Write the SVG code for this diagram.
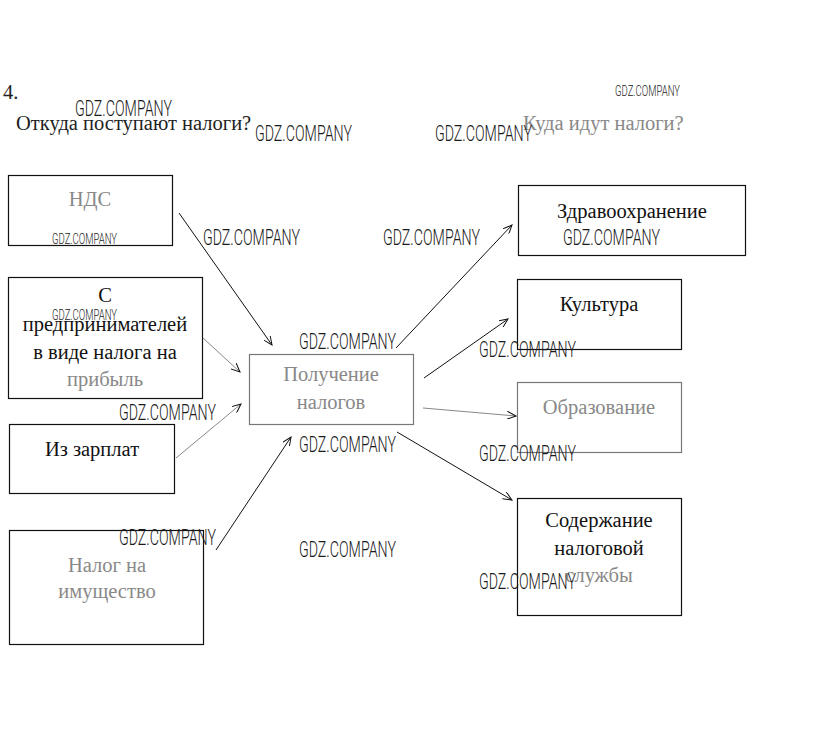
<svg xmlns="http://www.w3.org/2000/svg" width="823" height="754" viewBox="0 0 823 754">
<style>
.box{fill:none;stroke:#111;stroke-width:1.2}
.faint{stroke:#777}
.t{font-family:"Liberation Serif","DejaVu Serif",serif;font-size:20.5px;fill:#111;text-anchor:middle}
.tl{font-family:"Liberation Serif","DejaVu Serif",serif;font-size:20.5px;fill:#222}
.g{fill:#888}
.wm{font-family:Roboto,"Liberation Sans",sans-serif;font-weight:300;font-size:22px;fill:#1a1a1a}
.wms{font-family:Roboto,"Liberation Sans",sans-serif;font-weight:300;font-size:14px;fill:#1a1a1a}
.c{fill:none;stroke:#111;stroke-width:1;marker-end:url(#ah)}
.cf{stroke:#888}
</style>
<defs>
<marker id="ah" markerWidth="10" markerHeight="8" refX="9" refY="4" orient="auto" markerUnits="userSpaceOnUse">
<path d="M0,0 L9,4 L0,8" fill="none" stroke="#111" stroke-width="1"/>
</marker>
</defs>
<rect width="823" height="754" fill="#fff"/>
<text class="tl" x="3" y="99" font-size="21">4.</text>
<text class="tl" x="16" y="130">Откуда поступают налоги?</text>
<text class="tl g" x="523" y="130">Куда идут налоги?</text>

<g id="connectors">
<line class="c" x1="179" y1="213" x2="272" y2="345"/>
<line class="c cf" x1="203" y1="338" x2="240" y2="372"/>
<line class="c cf" x1="176" y1="458" x2="241" y2="404"/>
<line class="c" x1="216" y1="550" x2="291" y2="437"/>
<line class="c" x1="396" y1="348" x2="512" y2="225"/>
<line class="c" x1="424" y1="378" x2="508" y2="319"/>
<line class="c cf" x1="423" y1="408" x2="516" y2="416"/>
<line class="c" x1="397" y1="432" x2="512" y2="500"/>
</g>

<g id="nds">
<rect class="box" x="8.5" y="175.5" width="164" height="70"/>
<text class="t g" x="90" y="206">НДС</text>
</g>
<g id="entrepreneurs">
<rect class="box" x="8.5" y="277.5" width="194" height="121"/>
<text class="t" x="105" y="302">С</text>
<text class="t" x="105" y="331">предпринимателей</text>
<text class="t" x="105" y="359">в виде налога на</text>
<text class="t g" x="105" y="386">прибыль</text>
</g>
<g id="salary">
<rect class="box" x="9.5" y="424.5" width="165" height="69"/>
<text class="t" x="92" y="456">Из зарплат</text>
</g>
<g id="property">
<rect class="box" x="9.5" y="530.5" width="194" height="114"/>
<text class="t g" x="107" y="572">Налог на</text>
<text class="t g" x="107" y="598">имущество</text>
</g>
<g id="receipt">
<rect class="box faint" x="249.5" y="354.5" width="164" height="70"/>
<text class="t g" x="331" y="381">Получение</text>
<text class="t g" x="331" y="409">налогов</text>
</g>
<g id="health">
<rect class="box" x="518.5" y="185.5" width="227" height="70"/>
<text class="t" x="632" y="218">Здравоохранение</text>
</g>
<g id="culture">
<rect class="box" x="517.5" y="279.5" width="164" height="70"/>
<text class="t" x="599" y="311">Культура</text>
</g>
<g id="education">
<rect class="box faint" x="517.5" y="382.5" width="164" height="70"/>
<text class="t g" x="599" y="414">Образование</text>
</g>
<g id="taxservice">
<rect class="box" x="517.5" y="498.5" width="164" height="117"/>
<text class="t" x="599" y="527">Содержание</text>
<text class="t" x="599" y="555">налоговой</text>
<text class="t g" x="599" y="582">службы</text>
</g>

<g id="watermarks">
<text class="wm" x="75" y="116" textLength="97" lengthAdjust="spacingAndGlyphs">GDZ.COMPANY</text>
<text class="wm" x="255" y="141" textLength="97" lengthAdjust="spacingAndGlyphs">GDZ.COMPANY</text>
<text class="wm" x="435" y="141" textLength="97" lengthAdjust="spacingAndGlyphs">GDZ.COMPANY</text>
<text class="wms" x="615" y="96" textLength="65" lengthAdjust="spacingAndGlyphs">GDZ.COMPANY</text>
<text class="wms" x="52" y="244" textLength="65" lengthAdjust="spacingAndGlyphs">GDZ.COMPANY</text>
<text class="wm" x="203" y="245" textLength="97" lengthAdjust="spacingAndGlyphs">GDZ.COMPANY</text>
<text class="wm" x="383" y="245" textLength="97" lengthAdjust="spacingAndGlyphs">GDZ.COMPANY</text>
<text class="wm" x="563" y="245" textLength="97" lengthAdjust="spacingAndGlyphs">GDZ.COMPANY</text>
<text class="wms" x="52" y="320" textLength="65" lengthAdjust="spacingAndGlyphs">GDZ.COMPANY</text>
<text class="wm" x="299" y="349" textLength="97" lengthAdjust="spacingAndGlyphs">GDZ.COMPANY</text>
<text class="wm" x="479" y="357" textLength="97" lengthAdjust="spacingAndGlyphs">GDZ.COMPANY</text>
<text class="wm" x="119" y="420" textLength="97" lengthAdjust="spacingAndGlyphs">GDZ.COMPANY</text>
<text class="wm" x="299" y="452" textLength="97" lengthAdjust="spacingAndGlyphs">GDZ.COMPANY</text>
<text class="wm" x="479" y="461" textLength="97" lengthAdjust="spacingAndGlyphs">GDZ.COMPANY</text>
<text class="wm" x="119" y="545" textLength="97" lengthAdjust="spacingAndGlyphs">GDZ.COMPANY</text>
<text class="wm" x="299" y="557" textLength="97" lengthAdjust="spacingAndGlyphs">GDZ.COMPANY</text>
<text class="wm" x="479" y="589" textLength="97" lengthAdjust="spacingAndGlyphs">GDZ.COMPANY</text>
</g>
</svg>
